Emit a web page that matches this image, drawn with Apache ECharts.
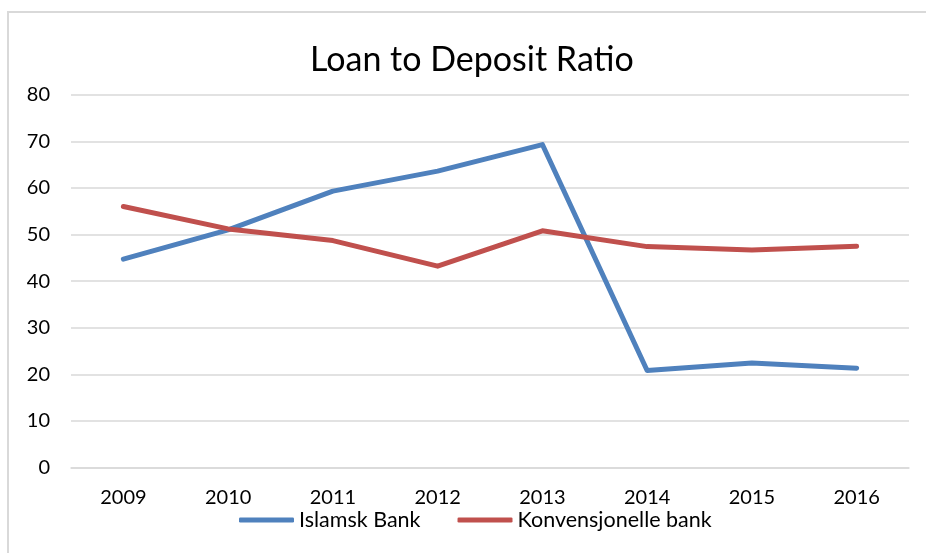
<!DOCTYPE html>
<html>
<head>
<meta charset="utf-8">
<script src="https://cdn.jsdelivr.net/npm/echarts@6/dist/echarts.min.js"></script>
<style>
  html, body { margin: 0; padding: 0; background: #fff; }
  #chart { width: 926px; height: 553px; }
</style>
</head>
<body>
<div id="chart"></div>
<script>
// Years on the category axis
const years = ['2009', '2010', '2011', '2012', '2013', '2014', '2015', '2016'];
// Loan to deposit ratio per bank type
const islamskBank = [44.7, 51.0, 59.3, 63.6, 69.3, 20.8, 22.4, 21.3];
const konvensjonelleBank = [56.0, 51.2, 48.7, 43.2, 50.8, 47.4, 46.7, 47.5];
// Value axis ticks
const yTicks = [0, 10, 20, 30, 40, 50, 60, 70, 80];

const FONT = 'Lato, "Open Sans", sans-serif';
const chart = echarts.init(document.getElementById('chart'), null, { renderer: 'canvas' });

chart.setOption({
  backgroundColor: '#ffffff',
  animation: false,
  title: {
    text: 'Loan to Deposit Ratio',
    left: 305,
    top: 38,
    textStyle: { fontFamily: FONT, fontSize: 34, fontWeight: 'normal', color: '#000' }
  },
  legend: {
    bottom: 17,
    left: 234,
    icon: 'roundRect',
    itemWidth: 55,
    itemHeight: 5,
    itemGap: 37,
    textStyle: { fontFamily: FONT, fontSize: 21.5, color: '#000' },
    data: ['Islamsk Bank', 'Konvensjonelle bank']
  },
  grid: { left: 71, right: 17, top: 94.7, bottom: 85.5, containLabel: false },
  xAxis: {
    type: 'category',
    data: years,
    boundaryGap: true,
    axisLine: { lineStyle: { color: '#d9d9d9', width: 1.5 } },
    axisTick: { show: false },
    axisLabel: { fontFamily: FONT, fontSize: 20, color: '#000', margin: 20 }
  },
  yAxis: {
    type: 'value',
    min: yTicks[0],
    max: yTicks[yTicks.length - 1],
    interval: 10,
    axisLine: { show: false },
    axisTick: { show: false },
    splitLine: { lineStyle: { color: '#d9d9d9', width: 1.5 } },
    axisLabel: { fontFamily: FONT, fontSize: 20, color: '#000', margin: 21 }
  },
  series: [
    {
      name: 'Islamsk Bank',
      type: 'line',
      data: islamskBank,
      showSymbol: false,
      symbol: 'none',
      color: '#4f81bd',
      lineStyle: { width: 5, color: '#4f81bd', cap: 'round', join: 'round' }
    },
    {
      name: 'Konvensjonelle bank',
      type: 'line',
      data: konvensjonelleBank,
      showSymbol: false,
      symbol: 'none',
      color: '#c0504d',
      lineStyle: { width: 5, color: '#c0504d', cap: 'round', join: 'round' }
    }
  ],
  graphic: [
    // chart frame (top and left edges)
    { type: 'line', shape: { x1: 7, y1: 12, x2: 926, y2: 12 }, style: { stroke: '#d9d9d9', lineWidth: 2 } },
    { type: 'line', shape: { x1: 8, y1: 11, x2: 8, y2: 553 }, style: { stroke: '#d9d9d9', lineWidth: 2 } }
  ]
});
</script>
</body>
</html>
